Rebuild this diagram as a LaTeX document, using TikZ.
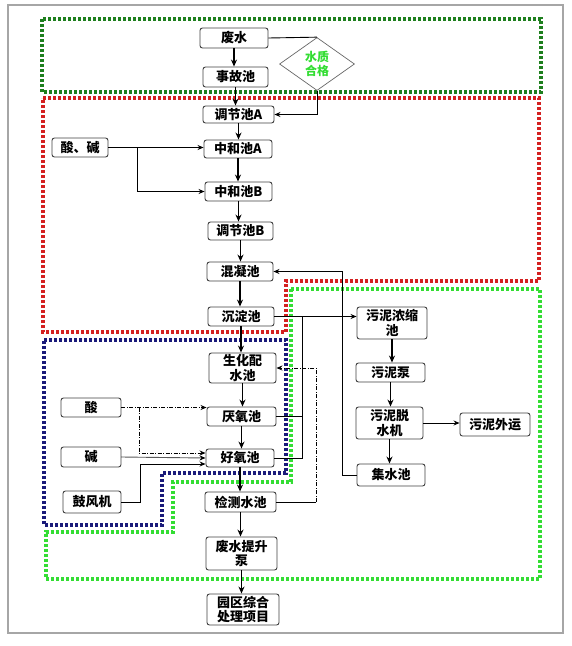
\documentclass[tikz,border=0pt]{standalone}
\usepackage{fontspec}
\setmainfont{Noto Sans CJK SC}
\usetikzlibrary{shapes.geometric,arrows.meta,calc}
\begin{document}
\begin{tikzpicture}[x=1pt,y=-1pt,
  box/.style={draw=black!75, line width=0.9pt, rounded corners=2.5pt, fill=white, inner sep=0pt, align=center, font=\fontsize{13}{14.5}\selectfont\bfseries},
  arr/.style={-{Stealth[length=6pt,width=5pt]}, line width=0.9pt},
  marr/.style={-{Stealth[length=7pt,width=6pt]}, line width=1.7pt},
  ln/.style={line width=0.9pt},
  dd/.style={dash pattern=on 4pt off 1.5pt on 1pt off 1.5pt, line width=0.9pt},
  dt/.style={dash pattern=on 1.2pt off 0.8pt, line width=0.9pt},
  zone/.style={dash pattern=on 3pt off 2pt, line width=3.5pt},
]
\useasboundingbox (0,0) rectangle (572,646);
\draw[gray!70, line width=1.6pt] (8,5) rectangle (563,633);
% zones
\definecolor{zdg}{HTML}{1E7F1E}
\definecolor{zrd}{HTML}{D42020}
\definecolor{zbg}{HTML}{33DD33}
\definecolor{zbl}{HTML}{1A1A7A}
\draw[zone, zdg] (42,19) rectangle (541,92);
\draw[zone, zrd] (43,98) -- (539,98) -- (539,281) -- (286,281) -- (286,332) -- (43,332) -- cycle;
\draw[zone, zbl] (44,340) -- (286,340) -- (286,473) -- (162,473) -- (162,525) -- (44,525) -- cycle;
\draw[zone, zbg] (291,289) -- (540,289) -- (540,579) -- (46,579) -- (46,532) -- (173,532) -- (173,482) -- (291,482) -- cycle;
% nodes
\node[box, minimum width=68, minimum height=20] (feishui) at (234,38) {废水};
\node[box, minimum width=65, minimum height=20] (shigu) at (235.5,77) {事故池};
\node[draw=black!60, line width=0.7pt, shape=diamond, inner sep=0pt, minimum width=75, minimum height=53, align=center, text=zbg, font=\fontsize{12}{13.5}\selectfont\bfseries] (dia) at (317,64) {水质\\合格};
\node[box, minimum width=71, minimum height=17] (tjA) at (238.5,114.5) {调节池A};
\node[box, minimum width=68, minimum height=18] (zhA) at (238,149) {中和池A};
\node[box, minimum width=56, minimum height=19] (suanjian) at (80,147.5) {酸、碱};
\node[box, minimum width=67, minimum height=19] (zhB) at (238.5,191.5) {中和池B};
\node[box, minimum width=65, minimum height=18] (tjB) at (240.5,231) {调节池B};
\node[box, minimum width=66, minimum height=19] (hunning) at (240,271.5) {混凝池};
\node[box, minimum width=66, minimum height=19] (chendian) at (241,316.5) {沉淀池};
\node[box, minimum width=67, minimum height=30] (shenghua) at (242.5,368) {生化配\\水池};
\node[box, minimum width=69, minimum height=19] (yanyang) at (241.5,416.5) {厌氧池};
\node[box, minimum width=68, minimum height=18] (haoyang) at (240,458) {好氧池};
\node[box, minimum width=71, minimum height=20] (jiance) at (240.5,502) {检测水池};
\node[box, minimum width=71, minimum height=33] (tisheng) at (241.5,553.5) {废水提升\\泵};
\node[box, minimum width=72, minimum height=31] (yuanqu) at (243,609.5) {园区综合\\处理项目};
\node[box, minimum width=60, minimum height=19] (suan) at (91,407.5) {酸};
\node[box, minimum width=60, minimum height=20] (jian) at (91,457) {碱};
\node[box, minimum width=58, minimum height=22] (gufeng) at (92,502) {鼓风机};
\node[box, minimum width=70, minimum height=32] (nongsuo) at (392,323) {污泥浓缩\\池};
\node[box, minimum width=69, minimum height=19] (nibeng) at (390.5,372.5) {污泥泵};
\node[box, minimum width=67, minimum height=32] (tuoshui) at (389.5,423) {污泥脱\\水机};
\node[box, minimum width=70, minimum height=23] (waiyun) at (495,424.5) {污泥外运};
\node[box, minimum width=68, minimum height=22] (jishui) at (391,475) {集水池};
% main column
\draw[marr] (feishui.south) -- (feishui.south |- shigu.north);
\draw[marr] (shigu.south) -- (shigu.south |- tjA.north);
\draw[marr] (tjA.south) -- (tjA.south |- zhA.north);
\draw[marr] (zhA.south) -- (zhA.south |- zhB.north);
\draw[marr] (zhB.south) -- (zhB.south |- tjB.north);
\draw[marr] (tjB.south) -- (tjB.south |- hunning.north);
\draw[marr] (hunning.south) -- (hunning.south |- chendian.north);
\draw[marr] (chendian.south) -- (chendian.south |- shenghua.north);
\draw[marr] (shenghua.south) -- (shenghua.south |- yanyang.north);
\draw[marr] (yanyang.south) -- (yanyang.south |- haoyang.north);
\draw[marr] (haoyang.south) -- (haoyang.south |- jiance.north);
\draw[marr] (jiance.south) -- (jiance.south |- tisheng.north);
\draw[marr] (tisheng.south) -- (tisheng.south |- yuanqu.north);
% diamond bypass
\draw[ln] (feishui.east) -- (dia.north);
\draw[arr] (dia.south) |- (tjA.east);
% acid/base
\draw[arr] (suanjian.east) -- (suanjian.east -| zhA.west);
\coordinate (b1) at (137,147.5);
\draw[arr] (b1) |- (zhB.west);
% sludge
\coordinate (s1) at (302,316.5);
\draw[arr] (chendian.east) -- (chendian.east -| nongsuo.west);
\draw[ln] (yanyang.east) -- (yanyang.east -| s1);
\draw[ln] (haoyang.east) -- (haoyang.east -| s1) -- (s1);
\draw[marr] (nongsuo.south) -- (nongsuo.south |- nibeng.north);
\draw[marr] (nibeng.south) -- (nibeng.south |- tuoshui.north);
\draw[marr] (tuoshui.south) -- (tuoshui.south |- jishui.north);
\draw[arr] (tuoshui.east) -- (tuoshui.east -| waiyun.west);
% collected water back to coagulation
\coordinate (w1) at (342,271.5);
\draw[arr] (jishui.west) -| (w1) -- (hunning.east);
% recycle from test tank
\coordinate (r1) at (316,368);
\draw[ln] (jiance.east) -- (jiance.east -| r1);
\draw[dd, -{Stealth[length=6pt,width=5pt]}] (jiance.east -| r1) -- (r1) -- (shenghua.east);
% dosing to tanks
\coordinate (a1) at (139,407.5);
\draw[dd, -{Stealth[length=6pt,width=5pt]}] (suan.east) -- (suan.east -| yanyang.west);
\draw[dd, -{Stealth[length=6pt,width=5pt]}] (a1) |- ([yshift=5pt]haoyang.west);
\draw[dt, -{Stealth[length=6pt,width=5pt]}] (jian.east) -- ([yshift=0pt]haoyang.west);
\coordinate (g1) at (140,502);
\draw[arr] (gufeng.east) -- (g1) |- ([yshift=-6pt]haoyang.west);
\end{tikzpicture}
\end{document}
